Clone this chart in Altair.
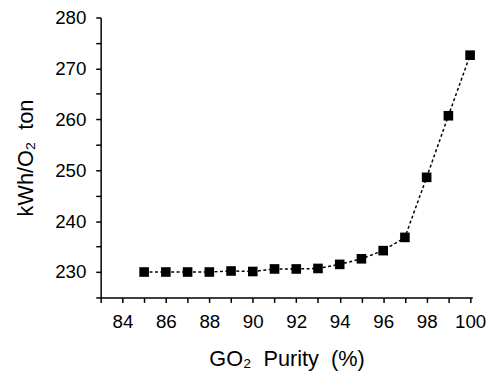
import altair as alt
import pandas as pd

purity = [85, 86, 87, 88, 89, 90, 91, 92, 93, 94, 95, 96, 97, 98, 99, 100]
energy = [230.0, 230.0, 230.0, 230.0, 230.2, 230.1, 230.6, 230.6, 230.7, 231.5,
          232.6, 234.2, 236.8, 248.6, 260.7, 272.6]
x_ticks = list(range(83, 101))
y_ticks = list(range(225, 281, 5))

df = pd.DataFrame({"purity": purity, "energy": energy})

FONT = "Liberation Sans"

common = dict(grid=False, tickSize=5, tickWidth=1.5, domainWidth=1.5,
              domainColor="black", tickColor="black", labelColor="black",
              labelFontSize=19, titleFontSize=22, labelFont=FONT, titleFont=FONT,
              titleFontWeight="normal", labelFlush=False, titleColor="black")

x = alt.X("purity:Q",
          scale=alt.Scale(domain=[83, 100.1], nice=False, zero=False),
          axis=alt.Axis(title="GO₂\u00a0\u00a0Purity\u00a0\u00a0(%)", values=x_ticks,
                        labelExpr="datum.value % 2 == 0 && datum.value >= 84 ? datum.label : ''",
                        labelPadding=10, titlePadding=18, **common))
y = alt.Y("energy:Q",
          scale=alt.Scale(domain=[225, 280], nice=False, zero=False),
          axis=alt.Axis(title="kWh/O₂\u00a0\u00a0ton", values=y_ticks,
                        labelExpr="datum.value % 10 == 0 ? datum.label : ''",
                        labelPadding=10, titlePadding=17, **common))

line = alt.Chart(df).mark_line(color="black", strokeDash=[3, 2.5], strokeWidth=1.5).encode(x=x, y=y)
pts = alt.Chart(df).mark_point(shape="square", filled=True, color="black", size=95, opacity=1).encode(x=x, y=y)

chart = (line + pts).properties(
    width=377, height=284,
    autosize=alt.AutoSizeParams(type="none"),
    padding={"left": 94, "top": 7, "right": 20, "bottom": 75},
).configure_view(stroke=None)

chart.save("out.html", embed_options={"renderer": "svg", "actions": False})
